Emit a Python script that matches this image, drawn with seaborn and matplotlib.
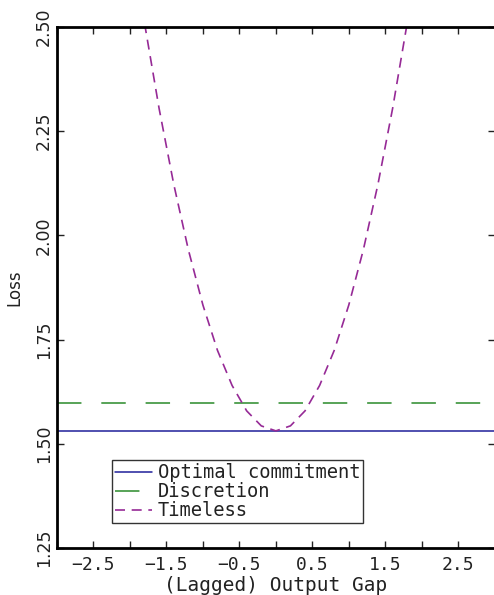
import matplotlib; matplotlib.use('Agg')
import matplotlib.pyplot as plt
from matplotlib.ticker import MultipleLocator
import pandas as pd
import seaborn as sns

# ── data ──
gap_flat = [-3.0, 3.0]
optimal_loss = [1.531, 1.531]
discretion_loss = [1.598, 1.598]

gap_timeless = [-1.8, -1.6, -1.4, -1.2, -1.0, -0.8, -0.6, -0.4, -0.2, 0.0,
                0.2, 0.4, 0.6, 0.8, 1.0, 1.2, 1.4, 1.6, 1.8]
timeless_loss = [2.509, 2.304, 2.123, 1.966, 1.833, 1.724, 1.640, 1.579, 1.543, 1.531,
                 1.543, 1.579, 1.640, 1.724, 1.833, 1.966, 2.123, 2.304, 2.509]

x_labels = ['\u22122.5', '\u22121.5', '\u22120.5', '0.5', '1.5', '2.5']
y_labels = ['1.25', '1.50', '1.75', '2.00', '2.25', '2.50']

sns.set_style('ticks')
plt.rcParams['font.family'] = ['DejaVu Sans']
txt = '#222222'
mono = 'DejaVu Sans Mono'

fig = plt.figure(figsize=(4.94, 5.95), dpi=100)
ax = fig.add_axes([0.1154, 0.079, 0.886, 0.8756])

opt = pd.DataFrame({'gap': gap_flat, 'loss': optimal_loss})
dis = pd.DataFrame({'gap': gap_flat, 'loss': discretion_loss})
tml = pd.DataFrame({'gap': gap_timeless, 'loss': timeless_loss})

sns.lineplot(data=opt, x='gap', y='loss', ax=ax, color='#1f1f9a', lw=1.1,
             label='Optimal commitment')
sns.lineplot(data=dis, x='gap', y='loss', ax=ax, color='#2a8a2a', lw=1.1,
             label='Discretion')
ax.lines[-1].set_dashes([16, 13])
sns.lineplot(data=tml, x='gap', y='loss', ax=ax, color='#962a96', lw=1.2,
             label='Timeless')
ax.lines[-1].set_dashes([6, 4])

ax.set_xlim(-3, 3)
ax.set_ylim(1.25, 2.5)

ax.xaxis.set_minor_locator(MultipleLocator(0.5))
ax.set_xticks([-2.5, -1.5, -0.5, 0.5, 1.5, 2.5])
ax.set_xticklabels(x_labels, fontfamily=mono, fontsize=13)
ax.set_yticks([1.25, 1.5, 1.75, 2.0, 2.25, 2.5])
ax.set_yticklabels(y_labels, rotation=90, va='center', fontsize=12.5)

ax.tick_params(axis='both', which='both', direction='in', top=True, right=True,
               length=5, width=1.0, colors=txt)
ax.tick_params(axis='x', which='minor', labelbottom=False)
ax.tick_params(axis='x', pad=6)
ax.tick_params(axis='y', pad=3)

for s in ['left', 'bottom', 'top']:
    ax.spines[s].set_linewidth(2.0)
    ax.spines[s].set_color('black')
ax.spines['right'].set_visible(False)

ax.set_xlabel('(Lagged) Output Gap', fontsize=14, fontfamily=mono, color=txt, labelpad=1)
ax.set_ylabel('Loss', fontsize=12, color=txt, labelpad=8)

leg = ax.legend(loc='lower left', bbox_to_anchor=(0.126, 0.048), borderaxespad=0,
                prop={'family': mono, 'size': 13.5}, frameon=True, fancybox=False,
                borderpad=0.15, labelspacing=0.0, handlelength=2.0, handletextpad=0.3)
leg.get_frame().set_edgecolor('black')
leg.get_frame().set_linewidth(1.0)
for t in leg.get_texts():
    t.set_color(txt)

fig.savefig('out.png', dpi=100)
